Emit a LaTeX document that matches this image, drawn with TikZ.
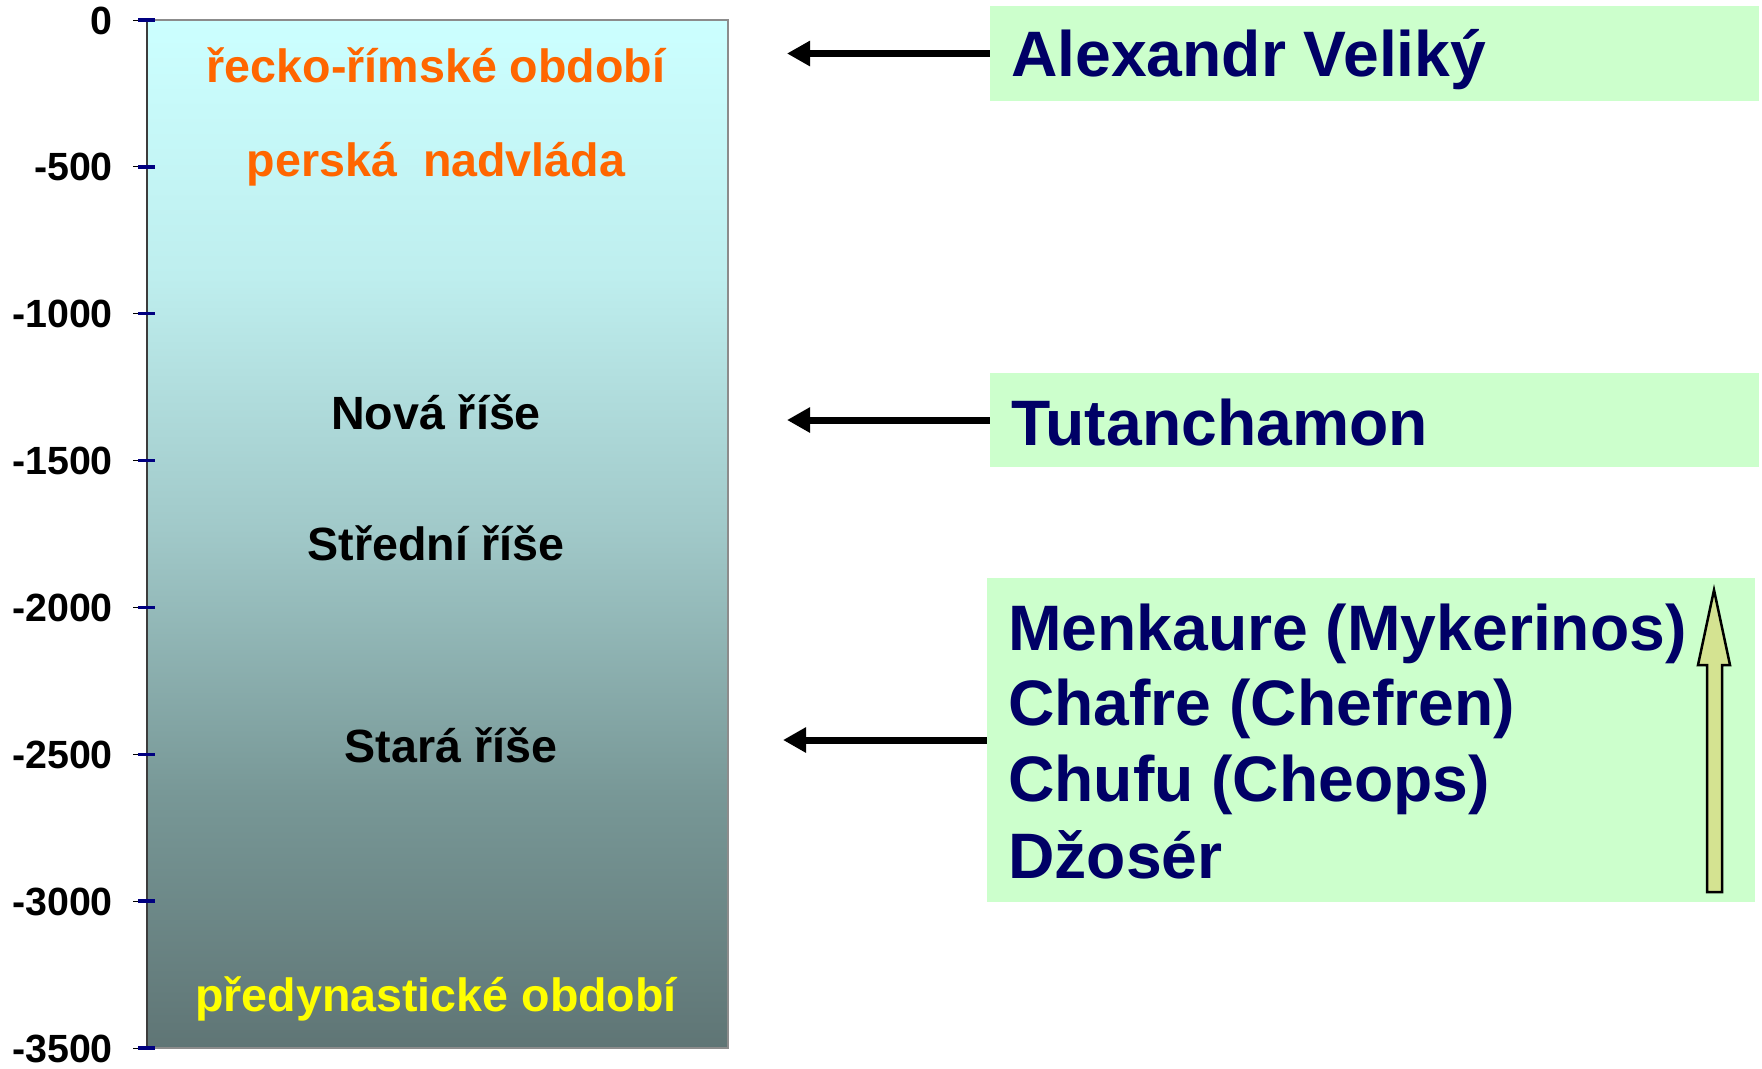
\documentclass[tikz,border=0pt]{standalone}
\usepackage{fontspec}
\setmainfont{Liberation Sans}
\usetikzlibrary{arrows.meta}

\definecolor{navytext}{RGB}{0,0,102}
\definecolor{boxgreen}{RGB}{204,255,204}
\definecolor{eraorange}{RGB}{255,102,0}
\definecolor{erayellow}{RGB}{255,255,0}
\definecolor{tickblue}{RGB}{0,0,128}
\definecolor{arrowolive}{RGB}{212,227,145}
\definecolor{barborder}{RGB}{140,140,140}
\definecolor{axisgray}{RGB}{60,60,60}
% colour stops of the timeline bar, top to bottom
\definecolor{stopA}{RGB}{204,255,255}
\definecolor{stopB}{RGB}{190,238,238}
\definecolor{stopC}{RGB}{160,200,200}
\definecolor{stopD}{RGB}{120,152,151}
\definecolor{stopE}{RGB}{95,117,117}

\newcommand{\ticklabelfont}{\fontsize{39.5}{42}\selectfont\bfseries}
\newcommand{\erafont}{\fontsize{46.8}{50}\selectfont\bfseries}
\newcommand{\namefont}{\fontsize{64.5}{76}\selectfont\bfseries}

\begin{document}
\begin{tikzpicture}[x=1bp,y=-1bp,
  ticklabel/.style={anchor=base east,inner sep=0pt,font=\ticklabelfont,text=black},
  eralabel/.style={anchor=base,inner sep=0pt,font=\erafont},
  namebox/.style={rectangle,fill=boxgreen,draw=none,inner sep=0pt},
  nametext/.style={anchor=base west,inner sep=0pt,font=\namefont,text=navytext,align=left},
  pointer/.style={line width=7bp,draw=black,-{Triangle[length=23bp,width=24bp]}},
]
\useasboundingbox (0,0) rectangle (1762,1068);

% timeline bar with a piecewise linear gradient
\shade[top color=stopA,bottom color=stopB] (147,20) rectangle (728,278);
\shade[top color=stopB,bottom color=stopC] (147,277) rectangle (728,535);
\shade[top color=stopC,bottom color=stopD] (147,534) rectangle (728,792);
\shade[top color=stopD,bottom color=stopE] (147,791) rectangle (728,1048);
\draw[barborder,line width=2bp] (147,20) -- (728,20) -- (728,1048) -- (147,1048);
\draw[axisgray,line width=1.8bp] (147,20) -- (147,1048);

% axis ticks and year labels
\foreach \k/\lab in {0/0,1/-500,2/-1000,3/-1500,4/-2000,5/-2500,6/-3000,7/-3500}{
  \pgfmathsetmacro{\ty}{20+\k*146.857}
  \draw[black,line width=1bp] (133,\ty) -- (147,\ty);
  \draw[tickblue,line width=3.5bp] (138,\ty) -- (155,\ty);
  \node[ticklabel] (tick\k) at (113,\ty+14) {\lab};
}

% periods inside the bar
\node[eralabel,text=eraorange] (grecoroman) at (436,82) {řecko-římské období};
\node[eralabel,text=eraorange] (persian) at (436,176) {perská\ \ nadvláda};
\node[eralabel,text=black] (newkingdom) at (436,429) {Nová říše};
\node[eralabel,text=black] (middlekingdom) at (436,560) {Střední říše};
\node[eralabel,text=black] (oldkingdom) at (451,762) {Stará říše};
\node[eralabel,text=erayellow] (predynastic) at (436,1011) {předynastické období};

% rulers
\node[namebox,minimum width=769bp,minimum height=95bp] (alexbox) at (1374.5,53.5) {};
\node[nametext] (alex) at (1011,76) {Alexandr Veliký};

\node[namebox,minimum width=769bp,minimum height=94bp] (tutbox) at (1374.5,420) {};
\node[nametext] (tut) at (1011,445) {Tutanchamon};

\node[namebox,minimum width=768bp,minimum height=324bp] (pharaohbox) at (1371,740) {};
\node[nametext] (menkaure) at (1008,650) {Menkaure (Mykerinos)};
\node[nametext] (chafre) at (1008,725) {Chafre (Chefren)};
\node[nametext] (chufu) at (1008,801) {Chufu (Cheops)};
\node[nametext] (dzoser) at (1008,878) {Džosér};

% succession arrow inside the pharaoh box
\draw[black,line width=2.5bp,fill=arrowolive,line join=miter]
  (1707,892) -- (1707,665) -- (1698,665) -- (1714,590) -- (1730,665)
  -- (1722,665) -- (1722,892) -- cycle;

% pointers from the rulers to the timeline
\coordinate (alextip) at (787,0);
\coordinate (tuttip) at (787,0);
\coordinate (pharaohtip) at (783,0);
\draw[pointer] (alexbox.west) -- (alextip |- alexbox.west);
\draw[pointer] (tutbox.west) -- (tuttip |- tutbox.west);
\draw[pointer] (pharaohbox.west) -- (pharaohtip |- pharaohbox.west);
\end{tikzpicture}
\end{document}
